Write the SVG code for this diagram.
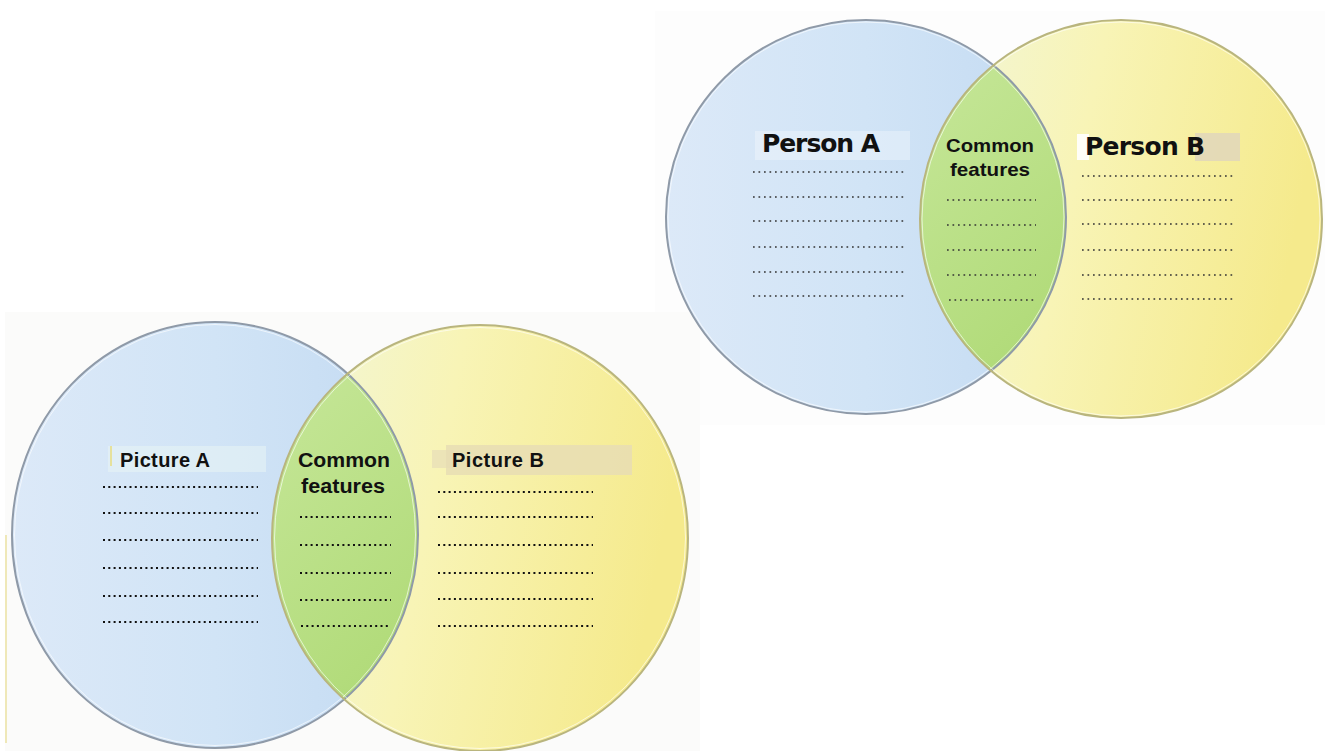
<svg xmlns="http://www.w3.org/2000/svg" width="1325" height="751" viewBox="0 0 1325 751">
<style>
.lbl{font-family:"DejaVu Sans","Liberation Sans",sans-serif;font-weight:bold;fill:#111;}
.cm{font-family:"Liberation Sans",Arial,sans-serif;font-weight:bold;fill:#111;}
.dt{stroke:#333333;stroke-width:1.7;stroke-dasharray:1.7 3.8;fill:none;}
.db{stroke:#111111;stroke-width:2;stroke-dasharray:2 3.3;fill:none;}
.ob{fill:none;stroke:#8f9aa8;stroke-width:2;}
.oy{fill:none;stroke:#b9b57e;stroke-width:2;}
.hi{fill:none;stroke:#ffffff;stroke-width:0.8;stroke-opacity:0.8;}
</style>
<defs>
<linearGradient id="gBlue" x1="0" y1="0" x2="1" y2="0">
<stop offset="0" stop-color="#dce9f8"/>
<stop offset="0.5" stop-color="#d1e4f6"/>
<stop offset="1" stop-color="#c3daf2"/>
</linearGradient>
<linearGradient id="gYellow" x1="0" y1="0" x2="1" y2="0.2">
<stop offset="0" stop-color="#f1f6da"/>
<stop offset="0.45" stop-color="#f8f4b6"/>
<stop offset="1" stop-color="#f5ea8c"/>
</linearGradient>
<linearGradient id="gGreen" x1="0" y1="0" x2="1" y2="1">
<stop offset="0" stop-color="#c8e89c"/>
<stop offset="0.5" stop-color="#b3dc7c"/>
<stop offset="1" stop-color="#9acb60"/>
</linearGradient>
<clipPath id="clipTopBlue"><ellipse cx="866" cy="217" rx="200" ry="197"/></clipPath>
<clipPath id="clipBotBlue"><ellipse cx="215" cy="535" rx="203" ry="213"/></clipPath>
</defs>
<rect width="1325" height="751" fill="#ffffff"/>
<rect x="655" y="11" width="670" height="414" fill="#fdfdfd"/>
<rect x="5" y="312" width="695" height="439" fill="#fbfbfa"/>
<rect x="5" y="535" width="2" height="208" fill="#efe8b8"/>

<g id="top-venn">
<g id="top-circle-a">
<ellipse cx="866" cy="217" rx="200" ry="197" fill="url(#gBlue)"/>
</g>
<g id="top-circle-b">
<ellipse cx="1121" cy="219" rx="201" ry="199" fill="url(#gYellow)"/>
</g>
<g id="top-overlap">
<ellipse cx="1121" cy="219" rx="201" ry="199" fill="url(#gGreen)" clip-path="url(#clipTopBlue)"/>
</g>
<ellipse cx="866" cy="217" rx="200" ry="197" class="ob"/>
<ellipse cx="866" cy="217" rx="198" ry="195" class="hi"/>
<ellipse cx="1121" cy="219" rx="201" ry="199" class="oy"/>
<ellipse cx="1121" cy="219" rx="199" ry="197" class="hi"/>
</g>

<g id="bottom-venn">
<g id="bottom-circle-a">
<ellipse cx="215" cy="535" rx="203" ry="213" fill="url(#gBlue)"/>
</g>
<g id="bottom-circle-b">
<ellipse cx="480" cy="538" rx="208" ry="213" fill="url(#gYellow)"/>
</g>
<g id="bottom-overlap">
<ellipse cx="480" cy="538" rx="208" ry="213" fill="url(#gGreen)" clip-path="url(#clipBotBlue)"/>
</g>
<ellipse cx="215" cy="535" rx="203" ry="213" class="ob"/>
<ellipse cx="215" cy="535" rx="200.5" ry="210.5" class="hi"/>
<ellipse cx="480" cy="538" rx="208" ry="213" class="oy"/>
<ellipse cx="480" cy="538" rx="205.5" ry="210.5" class="hi"/>
</g>

<g id="person-a">
<rect x="755" y="131" width="155" height="29" fill="#ffffff" opacity="0.3"/>
<text class="lbl" x="762" y="152" font-size="25" textLength="118">Person A</text>
<path class="dt" d="M753 172H904M753 197H904M753 221H904M753 247H904M753 272H904M753 296H904"/>
</g>

<g id="common-top">
<text class="cm" x="946" y="152" font-size="19" textLength="88" lengthAdjust="spacingAndGlyphs">Common</text>
<text class="cm" x="950" y="176" font-size="19" textLength="80" lengthAdjust="spacingAndGlyphs">features</text>
<path class="dt" d="M947 200H1036M947 225H1036M947 250H1036M947 275H1036M949 300H1034"/>
</g>

<g id="person-b">
<rect x="1077" y="134" width="12" height="26" fill="#ffffff" opacity="0.9"/>
<rect x="1195" y="133" width="45" height="28" fill="#e0d6bb" opacity="0.85"/>
<text class="lbl" x="1085" y="155" font-size="25" textLength="120">Person B</text>
<path class="dt" d="M1082 176H1233M1082 200H1233M1082 224H1233M1082 250H1233M1082 275H1233M1082 299H1233"/>
</g>

<g id="picture-a">
<rect x="108" y="446" width="158" height="26" fill="#e6f3f5" opacity="0.6"/>
<rect x="110" y="446" width="2" height="20" fill="#e6e19c"/>
<text class="cm" x="120" y="467" font-size="20" textLength="90">Picture A</text>
<path class="db" d="M103 487H258M103 513H258M103 540H258M103 568H258M103 596H258M103 622H258"/>
</g>

<g id="common-bottom">
<text class="cm" x="298" y="467" font-size="20" textLength="92" lengthAdjust="spacingAndGlyphs">Common</text>
<text class="cm" x="301" y="493" font-size="20" textLength="84" lengthAdjust="spacingAndGlyphs">features</text>
<path class="db" d="M300 517H391M300 545H391M300 573H391M300 600H391M301 626H388"/>
</g>

<g id="picture-b">
<rect x="432" y="450" width="22" height="18" fill="#e9e0b8" opacity="0.8"/>
<rect x="446" y="445" width="186" height="30" fill="#e8ddb4" opacity="0.85"/>
<text class="cm" x="452" y="467" font-size="20" textLength="92">Picture B</text>
<path class="db" d="M438 492H593M438 517H593M438 545H593M438 573H593M438 599H593M438 626H593"/>
</g>

<g id="connectors"></g>
</svg>
